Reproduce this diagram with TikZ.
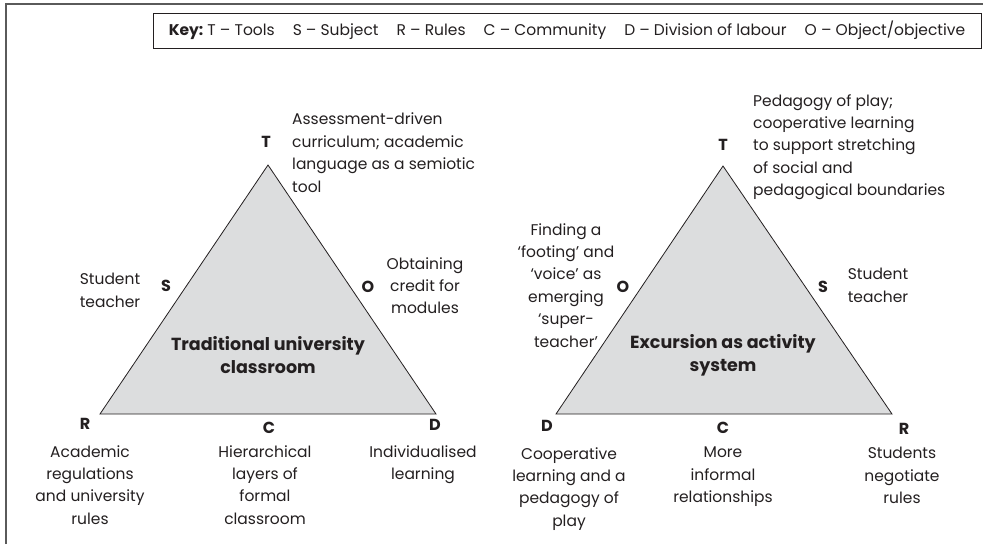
\documentclass[tikz,border=0pt]{standalone}
\usepackage{fontspec}
\setmainfont{Poppins}
\usetikzlibrary{positioning}

\definecolor{trifill}{RGB}{220,221,222}
\definecolor{inkgray}{RGB}{35,31,32}
\definecolor{framegray}{RGB}{90,90,90}

\tikzset{
  corner/.style={font=\bfseries\fontsize{16}{18}\selectfont, inner sep=0pt, text=inkgray},
  note/.style={align=center, font=\fontsize{15.5}{22.4}\selectfont, inner sep=0pt, anchor=north, text=inkgray},
  noteleft/.style={note, align=left, anchor=north west},
  sysname/.style={align=center, font=\bfseries\fontsize{17.5}{23}\selectfont, inner sep=0pt, text=inkgray},
  tri/.style={draw=inkgray, fill=trifill, line width=0.8pt, line join=miter},
  keybox/.style={draw=inkgray, line width=0.8pt, minimum width=828pt, minimum height=35pt, inner sep=0pt, font=\fontsize{15.5}{17}\selectfont, text=inkgray},
}
\newcommand{\keygap}{\hspace{18pt}}

\begin{document}
\begin{tikzpicture}[x=1pt, y=-1pt]
\useasboundingbox (0,0) rectangle (983,544);
% frame
\draw[framegray, line width=1.5pt] (6,544) -- (6,4) -- (983,4);
\node[keybox] (key) at (567,30.5) {\textbf{Key:}\ T -- Tools\keygap S -- Subject\keygap R -- Rules\keygap C -- Community\keygap D -- Division of labour\keygap O -- Object/objective};

% left triangle
\coordinate (lT) at (268,165);
\coordinate (lR) at (100,414);
\coordinate (lD) at (436,414);
\draw[tri] (lT) -- (lR) -- (lD) -- cycle;
\node[sysname] (lsys) at (268,355) {Traditional university\\classroom};

\node[corner] (lTl) at (266,142) {T};
\node[corner] (lSl) at (166,286) {S};
\node[corner] (lOl) at (368,287) {O};
\node[corner] (lRl) at (85,424) {R};
\node[corner] (lCl) at (269,428) {C};
\node[corner] (lDl) at (435,425) {D};

\node[noteleft] (lTn) at (292,113) {Assessment-driven\\curriculum; academic\\language as a semiotic\\tool};
\node[note] (lSn) at (110,273) {Student\\teacher};
\node[note] (lOn) at (425,257) {Obtaining\\credit for\\modules};
\node[note] (lRn) at (90,445) {Academic\\regulations\\and university\\rules};
\node[note] (lCn) at (265,445) {Hierarchical\\layers of\\formal\\classroom};
\node[note] (lDn) at (423,445) {Individualised\\learning};

% right triangle
\coordinate (rT) at (723,166);
\coordinate (rD) at (556,414);
\coordinate (rR) at (892,414);
\draw[tri] (rT) -- (rD) -- (rR) -- cycle;
\node[sysname] (rsys) at (723,355) {Excursion as activity\\system};

\node[corner] (rTl) at (723,145) {T};
\node[corner] (rOl) at (623,287) {O};
\node[corner] (rSl) at (823,287) {S};
\node[corner] (rDl) at (547,426) {D};
\node[corner] (rCl) at (723,428) {C};
\node[corner] (rRl) at (904,429) {R};

\node[noteleft] (rTn) at (753,94) {Pedagogy of play;\\cooperative learning\\to support stretching\\of social and\\pedagogical boundaries};
\node[note] (rOn) at (566,223) {Finding a\\‘footing’ and\\‘voice’ as\\emerging\\‘super-\\teacher’};
\node[note] (rSn) at (878,268) {Student\\teacher};
\node[note] (rDn) at (569,447) {Cooperative\\learning and a\\pedagogy of\\play};
\node[note] (rCn) at (723,447) {More\\informal\\relationships};
\node[note] (rRn) at (902,447) {Students\\negotiate\\rules};
\end{tikzpicture}
\end{document}
